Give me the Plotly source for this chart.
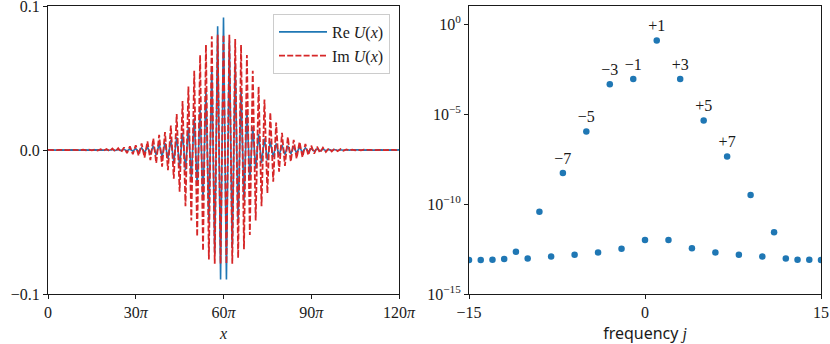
import plotly.graph_objs as go
from plotly.subplots import make_subplots
import math

# left panel: extrema of Re U and Im U, one value per half period (x = k*pi, k = 0..120)
half_period = list(range(121))

im_u = [
    0.0001, -0.0001, 0.0001, -0.0001, 0.0001, -0.0001, 0.0001, -0.0001, 0.0001, -0.0001,
    0.0002, -0.0002, 0.0002, -0.0002, 0.0002, -0.0003, 0.0003, -0.0004, 0.0005, -0.0006,
    0.0007, -0.0008, 0.0010, -0.0011, 0.0013, -0.0015, 0.0018, -0.0021, 0.0025, -0.0029,
    0.0033, -0.0039, 0.0045, -0.0052, 0.0060, -0.0070, 0.0080, -0.0090, 0.0105, -0.0115,
    0.0125, -0.0140, 0.0170, -0.0200, 0.0250, -0.0290, 0.0340, -0.0390, 0.0440, -0.0490,
    0.0550, -0.0600, 0.0660, -0.0700, 0.0730, -0.0760, 0.0790, -0.0790, 0.0800, -0.0790,
    0.0800, -0.0790, 0.0800, -0.0790, 0.0770, -0.0750, 0.0730, -0.0690, 0.0660, -0.0590,
    0.0550, -0.0490, 0.0440, -0.0390, 0.0350, -0.0300, 0.0260, -0.0220, 0.0190, -0.0150,
    0.0120, -0.0110, 0.0090, -0.0080, 0.0070, -0.0060, 0.0057, -0.0050, 0.0042, -0.0036,
    0.0030, -0.0026, 0.0023, -0.0019, 0.0016, -0.0014, 0.0012, -0.0010, 0.0009, -0.0008,
    0.0006, -0.0005, 0.0004, -0.0003, 0.0003, -0.0002, 0.0002, -0.0002, 0.0002, -0.0001,
    0.0001, -0.0001, 0.0001, -0.0001, 0.0001, -0.0001, 0.0001, -0.0001, 0.0001, -0.0001,
    0.0001,
]

re_u = [
    0.0001, -0.0001, 0.0001, -0.0001, 0.0001, -0.0001, 0.0001, -0.0001, 0.0001, -0.0001,
    0.0001, -0.0001, 0.0001, -0.0001, 0.0001, -0.0001, 0.0001, -0.0001, 0.0001, -0.0001,
    0.0002, -0.0002, 0.0003, -0.0003, 0.0004, -0.0004, 0.0005, -0.0006, 0.0007, -0.0008,
    0.0010, -0.0012, 0.0015, -0.0017, 0.0020, -0.0025, 0.0030, -0.0035, 0.0040, -0.0045,
    0.0050, -0.0060, 0.0070, -0.0080, 0.0090, -0.0110, 0.0120, -0.0140, 0.0160, -0.0190,
    0.0220, -0.0250, 0.0280, -0.0350, 0.0420, -0.0500, 0.0580, -0.0720, 0.0860, -0.0900,
    0.0920, -0.0900, 0.0760, -0.0680, 0.0600, -0.0510, 0.0430, -0.0350, 0.0280, -0.0210,
    0.0160, -0.0130, 0.0110, -0.0090, 0.0080, -0.0070, 0.0060, -0.0050, 0.0045, -0.0040,
    0.0035, -0.0032, 0.0030, -0.0027, 0.0025, -0.0022, 0.0020, -0.0017, 0.0015, -0.0012,
    0.0010, -0.0009, 0.0008, -0.0007, 0.0006, -0.0005, 0.0004, -0.0004, 0.0003, -0.0003,
    0.0002, -0.0002, 0.0002, -0.0001, 0.0002, -0.0001, 0.0001, -0.0001, 0.0001, -0.0001,
    0.0001, -0.0001, 0.0001, -0.0001, 0.0001, -0.0001, 0.0001, -0.0001, 0.0001, -0.0001,
    0.0001,
]

x_tick_labels = ["0", "30<i>π</i>", "60<i>π</i>", "90<i>π</i>", "120<i>π</i>"]

# right panel: spectrum
freq_j = list(range(-15, 16))
spectrum = [
    7.8e-14, 7.8e-14, 8.1e-14, 8.7e-14, 2.2e-13, 9.5e-14, 3.7e-11, 1.2e-13,
    5.2e-9, 1.5e-13, 1.05e-6, 2.0e-13, 4.5e-4, 3.3e-13, 8.7e-4, 1.0e-12,
    0.123, 1.0e-12, 8.7e-4, 3.5e-13, 4.3e-6, 2.0e-13, 4.3e-8, 1.5e-13,
    3.2e-10, 1.2e-13, 2.7e-12, 9.5e-14, 8.1e-14, 8.1e-14, 7.8e-14,
]
spectrum_labels = [
    "", "", "", "", "", "", "", "",
    "−7", "", "−5", "", "−3", "", "−1", "",
    "+1", "", "+3", "", "+5", "", "+7", "",
    "", "", "", "", "", "", "",
]

SERIF = "Liberation Serif"
BLUE = "#1f77b4"
RED = "#d62728"
INK = "#1a1a1a"

x_vals = [k * math.pi for k in half_period]
labelled = [(j, v, t) for j, v, t in zip(freq_j, spectrum, spectrum_labels) if t]

fig = make_subplots(rows=1, cols=2)

fig.add_trace(go.Scatter(
    x=x_vals, y=re_u, mode="lines",
    line=dict(color=BLUE, width=1.6),
    name="Re <i>U</i>(<i>x</i>)"
), row=1, col=1)
fig.add_trace(go.Scatter(
    x=x_vals, y=im_u, mode="lines",
    line=dict(color=RED, width=1.8, dash="6px,2.2px"),
    name="Im <i>U</i>(<i>x</i>)"
), row=1, col=1)

fig.add_trace(go.Scatter(
    x=freq_j, y=spectrum, mode="markers",
    marker=dict(color=BLUE, size=6.5),
    showlegend=False
), row=1, col=2)
# peak labels (invisible marker just sets the gap above the dot)
fig.add_trace(go.Scatter(
    x=[p[0] for p in labelled], y=[p[1] for p in labelled], mode="markers+text",
    marker=dict(size=7, color="rgba(0,0,0,0)"),
    text=[p[2] for p in labelled], textposition="top center",
    textfont=dict(family=SERIF, size=16, color=INK),
    showlegend=False
), row=1, col=2)

axis_style = dict(
    showgrid=False, zeroline=False, showline=True, mirror=True, automargin=False,
    linecolor=INK, linewidth=1, ticks="outside", ticklen=4,
    tickwidth=1, tickcolor=INK, ticklabeloverflow="allow",
    tickfont=dict(family=SERIF, size=16, color=INK),
)

fig.update_xaxes(
    axis_style, domain=[48 / 830, 399 / 830], range=[0, 120 * math.pi],
    tickvals=[0, 30 * math.pi, 60 * math.pi, 90 * math.pi, 120 * math.pi],
    ticktext=x_tick_labels,
    title=dict(text="<i>x</i>", font=dict(family=SERIF, size=16, color=INK), standoff=7),
    row=1, col=1
)
fig.update_yaxes(
    axis_style, domain=[50 / 344, 338 / 344], range=[-0.1, 0.1],
    tickvals=[-0.1, 0.0, 0.1], ticktext=["−0.1", "0.0", "0.1"],
    row=1, col=1
)
fig.update_xaxes(
    axis_style, domain=[469 / 830, 821 / 830], range=[-15, 15],
    tickvals=[-15, 0, 15], ticktext=["−15", "0", "15"],
    title=dict(text='<span style="font-family:Noto Sans">frequency</span> <i>j</i>',
               font=dict(family=SERIF, size=16, color=INK), standoff=7),
    row=1, col=2
)
fig.update_yaxes(
    axis_style, type="log", domain=[50 / 344, 338 / 344], range=[-15, 1],
    tickvals=[1, 1e-5, 1e-10, 1e-15],
    ticktext=["10<sup>0</sup>", "10<sup>−5</sup>", "10<sup>−10</sup>", "10<sup>−15</sup>"],
    row=1, col=2
)

fig.update_layout(
    width=830, height=344,
    margin=dict(l=0, r=0, t=0, b=0),
    paper_bgcolor="white", plot_bgcolor="white",
    font=dict(family=SERIF, size=16, color=INK),
    legend=dict(
        x=390 / 830, y=330 / 344, xanchor="right", yanchor="top",
        bgcolor="rgba(255,255,255,0.8)", bordercolor="#cccccc", borderwidth=1,
        font=dict(family=SERIF, size=16, color=INK),
        itemwidth=48, tracegroupgap=2
    ),
)

# drop the browser's default 8px body margin so the figure sits at the page corner
fig.write_html("out.html", config={"displayModeBar": False},
               post_script="document.body.style.margin='0';")
